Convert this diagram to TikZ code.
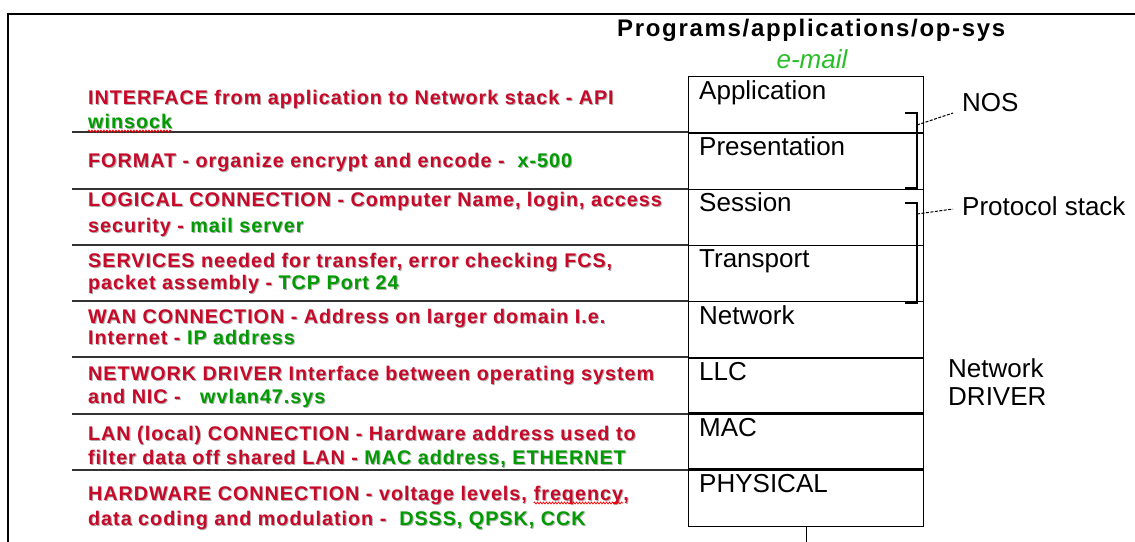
\documentclass[tikz,border=0pt]{standalone}
\usepackage{fontspec}
\setmainfont{Liberation Sans}
\newfontfamily\descfont{Liberation Sans}[LetterSpace=5]
\newfontfamily\titlefont{Liberation Sans}[LetterSpace=7]
\usetikzlibrary{decorations.pathmorphing}

\definecolor{descred}{RGB}{200,8,40}
\definecolor{descgreen}{RGB}{0,155,0}
\definecolor{mailgreen}{RGB}{40,190,40}
\definecolor{shade}{RGB}{175,175,175}

% coloured text with a light drop shadow
\newcommand\shd[2]{\leavevmode\rlap{\kern1pt\raisebox{-1pt}{\textcolor{shade}{#2}}}\textcolor{#1}{#2}}
\newcommand\rd[1]{\shd{descred}{#1}}
\newcommand\gr[1]{\shd{descgreen}{#1}}

\tikzset{
  desc/.style={anchor=base west, inner sep=0pt, font=\descfont\bfseries\fontsize{19.75}{23}\selectfont},
  layer/.style={draw, line width=1.4pt, minimum width=235pt, minimum height=56.25pt, anchor=north west, inner sep=0pt},
  layername/.style={anchor=base west, inner sep=0pt, font=\fontsize{26}{28}\selectfont},
  sidelabel/.style={anchor=west, inner sep=0pt, align=left, font=\fontsize{26}{28}\selectfont},
  sep/.style={line width=2pt, draw=black!80},
  bracket/.style={line width=1.3pt},
  leader/.style={line width=1pt, dash pattern=on 3pt off 1.5pt},
  squiggle/.style={draw=red, line width=0.7pt, decorate, decoration={snake, amplitude=1pt, segment length=3pt}}
}

\begin{document}
\begin{tikzpicture}[x=1pt, y=-1pt]
\useasboundingbox (0,0) rectangle (1135,541);

% frame
\draw[line width=2.5pt] (8,545) -- (8,14) -- (1140,14);

% heading
\node[anchor=west, inner sep=0pt, font=\titlefont\bfseries\fontsize{24}{26}\selectfont] (title) at (617,30) {Programs/applications/op-sys};
\node[inner sep=0pt, text=mailgreen, font=\itshape\fontsize{26}{28}\selectfont] (mail) at (812,59) {e-mail};

% OSI layer stack
\foreach \nm/\lbl [count=\i from 0] in {app/Application, pres/Presentation, sess/Session, trans/Transport, net/Network, llc/LLC, mac/MAC, phys/PHYSICAL}{
  \node[layer] (\nm) at (688,{76+\i*56.25}) {};
  \node[layername] (\nm-t) at ([xshift=11pt, yshift=-23pt]\nm.north west) {\lbl};
}
\draw[line width=2.6pt] (mac.north west) -- (mac.north east);
\draw[line width=2.6pt] (phys.north west) -- (phys.north east);

\coordinate (bottom) at (0,545);
\draw[line width=1.4pt] (phys.south) -- (phys.south |- bottom);

% separators of the description rows
\coordinate (sepL) at (72,0);
\foreach \nm in {pres, sess, trans, net, llc, mac, phys}{
  \draw[sep] (sepL |- \nm.north west) -- (\nm.north west);
}

% descriptions
\node[desc] (d1a) at (88,104) {\rd{INTERFACE from application to Network stack - API}};
\node[desc] (d1b) at (88,128) {\gr{winsock}};
\draw[squiggle] ([yshift=-3pt]d1b.base west) -- ([yshift=-3pt]d1b.base east);

\node[desc] (d2a) at (88,167) {\rd{FORMAT - organize encrypt and encode -\ \ }\gr{x-500}};

\node[desc] (d3a) at (88,206) {\rd{LOGICAL CONNECTION - Computer Name, login, access}};
\node[desc] (d3b) at (88,232) {\rd{security -\ }\gr{mail server}};

\node[desc] (d4a) at (88,267) {\rd{SERVICES needed for transfer, error checking FCS,}};
\node[desc] (d4b) at (88,289) {\rd{packet assembly -\ }\gr{TCP Port 24}};

\node[desc] (d5a) at (88,323) {\rd{WAN CONNECTION - Address on larger domain I.e.}};
\node[desc] (d5b) at (88,344) {\rd{Internet -\ }\gr{IP address}};

\node[desc] (d6a) at (88,380) {\rd{NETWORK DRIVER Interface between operating system}};
\node[desc] (d6b) at (88,403) {\rd{and NIC -\ \ \ }\gr{wvlan47.sys}};

\node[desc] (d7a) at (88,440) {\rd{LAN (local) CONNECTION - Hardware address used to}};
\node[desc] (d7b) at (88,464) {\rd{filter data off shared LAN -\ }\gr{MAC address, ETHERNET}};

\node[desc] (d8a) at (88,500) {\rd{HARDWARE CONNECTION - voltage levels,\ }};
\node[desc] (d8f) at (d8a.base east) {\rd{freqency}};
\node[desc] (d8c) at (d8f.base east) {\rd{,}};
\draw[squiggle] ([yshift=-3pt]d8f.base west) -- ([yshift=-3pt]d8f.base east);
\node[desc] (d8b) at (88,525) {\rd{data coding and modulation -\ \ }\gr{DSSS, QPSK, CCK}};

% groupings on the right
\node[sidelabel] (nos) at (962,103) {NOS};
\node[sidelabel] (proto) at (962,206) {Protocol stack};
\node[sidelabel] (drv) at (948,382) {Network\\DRIVER};

\draw[bracket] (905,113) -- (917,113) -- (917,188) -- (905,188);
\draw[bracket] (905,203) -- (917,203) -- (917,303) -- (905,303);
\coordinate (nosb) at (917,125);
\coordinate (protob) at (917,214);
\draw[leader] (nosb) -- ([xshift=-9pt, yshift=-10pt]nos.west);
\draw[leader] (protob) -- ([xshift=-9pt, yshift=-3pt]proto.west);
\end{tikzpicture}
\end{document}
